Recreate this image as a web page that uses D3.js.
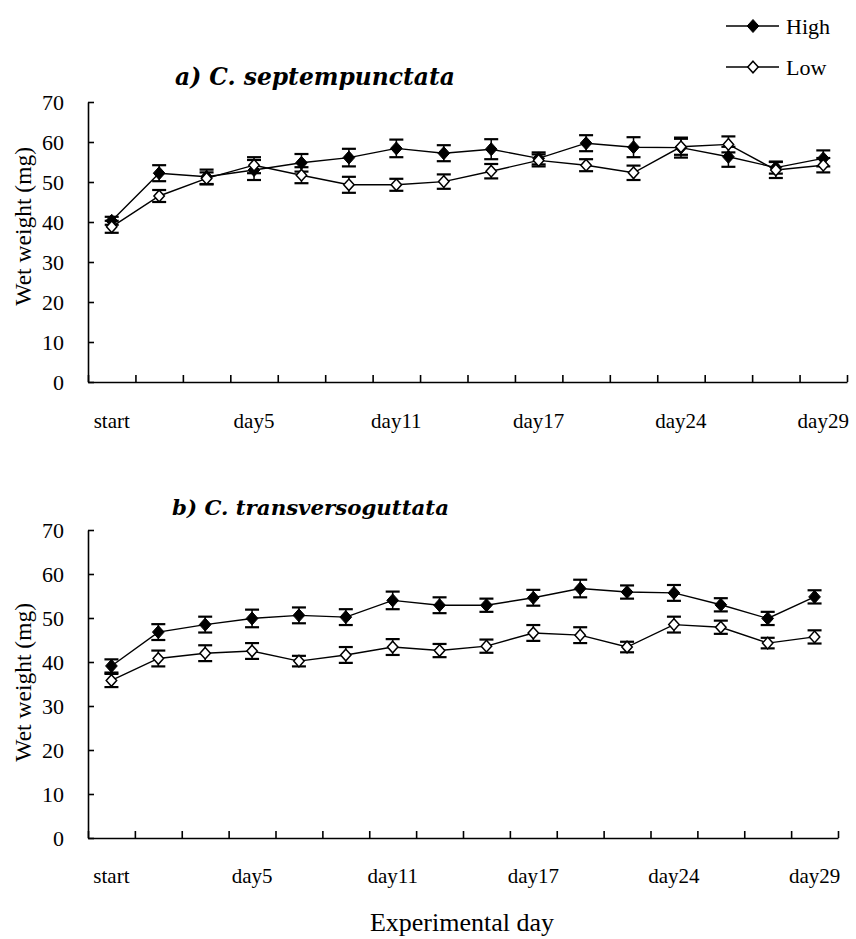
<!DOCTYPE html>
<html>
<head>
<meta charset="utf-8">
<script src="https://cdn.jsdelivr.net/npm/d3@7"></script>
<style>
  html, body { margin: 0; padding: 0; background: #fff; }
  svg { display: block; }
</style>
</head>
<body>
<svg id="chart" width="856" height="939"></svg>
<script>
// ---------- data ----------
const days = ["start","day1","day3","day5","day7","day9","day11","day13","day15","day17","day19","day21","day24","day26","day27","day29"];
const tickLabels = ["start","day5","day11","day17","day24","day29"];
const yTicks = [0,10,20,30,40,50,60,70];

const aHigh    = [40.3, 52.2, 51.3, 53.0, 54.8, 56.1, 58.4, 57.2, 58.2, 55.9, 59.7, 58.7, 58.6, 56.3, 53.6, 55.9];
const aHighErr = [1.0, 2.0, 1.8, 2.5, 2.2, 2.2, 2.2, 2.0, 2.5, 1.5, 2.0, 2.5, 2.5, 2.5, 1.5, 2.0];
const aLow     = [38.8, 46.5, 50.9, 54.2, 51.7, 49.3, 49.3, 50.1, 52.7, 55.4, 54.2, 52.3, 58.8, 59.4, 53.0, 54.2];
const aLowErr  = [1.5, 1.5, 1.5, 2.0, 2.0, 2.0, 1.5, 1.8, 1.8, 1.5, 1.5, 1.8, 2.0, 2.0, 2.0, 1.8];

const bHigh    = [39.1, 46.8, 48.5, 49.9, 50.6, 50.2, 54.0, 52.9, 52.9, 54.6, 56.7, 55.9, 55.7, 53.0, 49.9, 54.8];
const bHighErr = [1.5, 1.8, 1.8, 2.0, 1.8, 1.8, 2.0, 1.8, 1.5, 1.8, 2.0, 1.5, 1.8, 1.5, 1.5, 1.5];
const bLow     = [35.8, 40.8, 42.0, 42.5, 40.2, 41.6, 43.4, 42.6, 43.6, 46.6, 46.1, 43.4, 48.5, 47.9, 44.3, 45.7];
const bLowErr  = [1.5, 1.8, 1.8, 1.8, 1.2, 1.8, 1.8, 1.5, 1.5, 1.8, 1.8, 1.2, 1.8, 1.5, 1.2, 1.5];

const panels = [
  { title: "a) C. septempunctata", high: aHigh, highErr: aHighErr, low: aLow, lowErr: aLowErr,
    x0: 88, x1: 847, yTop: 102, yBot: 382, titleX: 175, titleY: 85, titleW: 280, labelY: 428, yLabelEnd: 147 },
  { title: "b) C. transversoguttata", high: bHigh, highErr: bHighErr, low: bLow, lowErr: bLowErr,
    x0: 88, x1: 838, yTop: 530, yBot: 838, titleX: 172, titleY: 515, titleW: 277, labelY: 883, yLabelEnd: 603 }
];

const svg = d3.select("#chart");
const serif = "Liberation Serif, Tinos, DejaVu Serif, serif";

function diamond(s) {
  return `M0,${-s}L${s*0.9},0L0,${s}L${-s*0.9},0Z`;
}

panels.forEach(p => {
  const g = svg.append("g");
  const x = d3.scaleBand().domain(days).range([p.x0, p.x1]).padding(0);
  const xl = d3.scaleLinear().domain([0, days.length]).range([p.x0, p.x1]);
  const y = d3.scaleLinear().domain([0, 70]).range([p.yBot, p.yTop]);

  // y axis
  const yAxis = g.append("g").attr("transform", `translate(${p.x0},0)`)
    .call(d3.axisLeft(y).tickValues(yTicks).tickSizeInner(-6).tickSizeOuter(0).tickPadding(24));
  yAxis.select(".domain").attr("stroke", "#000").attr("stroke-width", 1.6);
  yAxis.selectAll(".tick line").attr("stroke", "#000").attr("stroke-width", 1.6);
  yAxis.selectAll(".tick text").style("font-family", serif).style("font-size", "22px").attr("fill", "#000");

  // x axis ticks at band boundaries
  const xAxis = g.append("g").attr("transform", `translate(0,${p.yBot})`)
    .call(d3.axisBottom(xl).tickValues(d3.range(days.length + 1)).tickSizeInner(-7).tickSizeOuter(0).tickFormat(""));
  xAxis.select(".domain").attr("stroke", "#000").attr("stroke-width", 1.6);
  xAxis.selectAll(".tick line").attr("stroke", "#000").attr("stroke-width", 1.6);

  // x labels
  g.selectAll(".xlab").data(tickLabels).enter().append("text")
    .attr("x", d => x(d) + x.bandwidth() / 2)
    .attr("y", p.labelY)
    .attr("text-anchor", "middle")
    .style("font-family", serif).style("font-size", "21px")
    .text(d => d);

  // y label
  g.append("text")
    .attr("transform", `translate(31,${p.yLabelEnd}) rotate(-90)`)
    .attr("text-anchor", "end")
    .style("font-family", serif).style("font-size", "23.5px")
    .text("Wet weight (mg)");

  // title
  const t = g.append("text")
    .attr("x", p.titleX).attr("y", p.titleY)
    .style("font-family", "DejaVu Serif, serif").style("font-weight", "bold").style("font-style", "italic")
    .style("font-size", "20px")
    .text(p.title);
  const w = t.node().getComputedTextLength();
  t.style("font-size", (20 * p.titleW / w) + "px");

  const cx = (d, i) => x(days[i]) + x.bandwidth() / 2;
  const line = d3.line().x((d, i) => x(days[i]) + x.bandwidth() / 2).y(d => y(d));

  const drawSeries = (vals, errs, filled) => {
    const s = g.append("g");
    s.append("path").datum(vals).attr("d", line).attr("fill", "none").attr("stroke", "#000").attr("stroke-width", 1.4);
    const eb = s.selectAll(".eb").data(vals).enter().append("g");
    eb.append("line").attr("x1", cx).attr("x2", cx)
      .attr("y1", (d, i) => y(d + errs[i])).attr("y2", (d, i) => y(d - errs[i]))
      .attr("stroke", "#000").attr("stroke-width", 1.5);
    [1, -1].forEach(sg => {
      eb.append("line")
        .attr("x1", (d, i) => cx(d, i) - 7).attr("x2", (d, i) => cx(d, i) + 7)
        .attr("y1", (d, i) => y(d + sg * errs[i])).attr("y2", (d, i) => y(d + sg * errs[i]))
        .attr("stroke", "#000").attr("stroke-width", 2.2);
    });
    s.selectAll(".m").data(vals).enter().append("path")
      .attr("d", diamond(filled ? 6.5 : 5.8))
      .attr("transform", (d, i) => `translate(${cx(d, i)},${y(d)})`)
      .attr("fill", filled ? "#000" : "#fff")
      .attr("stroke", "#000").attr("stroke-width", filled ? 1 : 1.5);
  };
  drawSeries(p.high, p.highErr, true);
  drawSeries(p.low, p.lowErr, false);
});

// legend
const legend = [
  { name: "High", filled: true, y: 26 },
  { name: "Low", filled: false, y: 67 }
];
const lg = svg.append("g");
legend.forEach(l => {
  lg.append("line").attr("x1", 726).attr("x2", 779).attr("y1", l.y).attr("y2", l.y)
    .attr("stroke", "#000").attr("stroke-width", 1.4);
  lg.append("path").attr("d", diamond(l.filled ? 6.5 : 5.8))
    .attr("transform", `translate(753,${l.y})`)
    .attr("fill", l.filled ? "#000" : "#fff").attr("stroke", "#000").attr("stroke-width", l.filled ? 1 : 1.5);
  lg.append("text").attr("x", 786).attr("y", l.y + 8)
    .style("font-family", serif).style("font-size", "22px").text(l.name);
});

// x axis title
svg.append("text").attr("x", 462).attr("y", 931).attr("text-anchor", "middle")
  .style("font-family", serif).style("font-size", "26px").text("Experimental day");
</script>
</body>
</html>
